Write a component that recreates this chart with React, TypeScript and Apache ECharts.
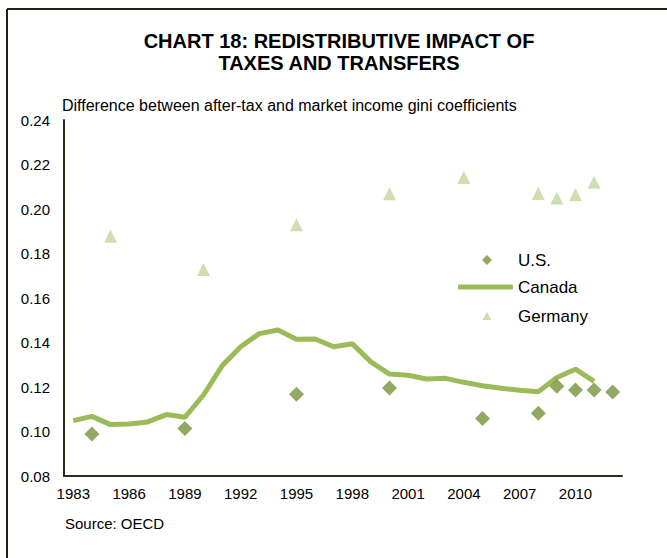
import React, { useEffect, useRef } from "react";
import * as echarts from "echarts";

const years: string[] = [
  "1983", "1984", "1985", "1986", "1987", "1988", "1989", "1990", "1991", "1992",
  "1993", "1994", "1995", "1996", "1997", "1998", "1999", "2000", "2001", "2002",
  "2003", "2004", "2005", "2006", "2007", "2008", "2009", "2010", "2011", "2012",
];

// Canada: 1983..2011
const canadaValues: number[] = [
  0.1049, 0.1068, 0.1031, 0.1034, 0.1043, 0.1076, 0.1064, 0.1164, 0.1295, 0.1381,
  0.144, 0.1456, 0.1415, 0.1416, 0.1381, 0.1394, 0.1313, 0.1258, 0.1253, 0.1236,
  0.1239, 0.1221, 0.1206, 0.1194, 0.1185, 0.1179, 0.1243, 0.128, 0.1225,
];

const usYears: string[] = ["1984", "1989", "1995", "2000", "2005", "2008", "2009", "2010", "2011", "2012"];
const usValues: number[] = [0.0989, 0.1013, 0.1167, 0.1195, 0.1058, 0.1082, 0.1203, 0.1187, 0.1186, 0.1177];

const deYears: string[] = ["1985", "1990", "1995", "2000", "2004", "2008", "2009", "2010", "2011"];
const deValues: number[] = [0.1878, 0.1728, 0.1929, 0.2068, 0.2142, 0.207, 0.205, 0.2064, 0.212];

const yTicks = { min: 0.08, max: 0.24, interval: 0.02 };

const FONT = "'Liberation Sans', Arial, sans-serif";

function toFull(ys: string[], vs: number[]): (number | null)[] {
  return years.map((y) => {
    const i = ys.indexOf(y);
    return i >= 0 ? vs[i] : null;
  });
}

const US_COLOR = "#77933c";
const CA_COLOR = "#9bbb59";
const DE_COLOR = "#c3d69b";

export default function App() {
  const ref = useRef<HTMLDivElement>(null);
  useEffect(() => {
    if (!ref.current) return;
    const chart = echarts.init(ref.current, undefined, { renderer: "svg" });
    const axisColor = "#2b2e1c";
    const legendText = { fontSize: 17, fontFamily: FONT, color: "#000" };
    chart.setOption({
      animation: false,
      backgroundColor: "#ffffff",
      textStyle: { fontFamily: FONT },
      graphic: [
        { type: "line", shape: { x1: 7, y1: 9, x2: 667, y2: 9 }, style: { stroke: "#1e2212", lineWidth: 2 } },
        { type: "line", shape: { x1: 7, y1: 9, x2: 7, y2: 558 }, style: { stroke: "#1e2212", lineWidth: 2 } },
        {
          type: "text",
          x: 339,
          y: 30,
          style: {
            text: "CHART 18: REDISTRIBUTIVE IMPACT OF\nTAXES AND TRANSFERS",
            x: 0,
            textAlign: "center",
            font: `bold 20px ${FONT}`,
            lineHeight: 22,
            fill: "#000",
          },
        },
        {
          type: "text",
          x: 62,
          y: 97,
          style: {
            text: "Difference between after-tax and market income gini coefficients",
            font: `16px ${FONT}`,
            fill: "#000",
          },
        },
        {
          type: "text",
          x: 65,
          y: 516,
          style: { text: "Source: OECD", font: `15px ${FONT}`, fill: "#000" },
        },
      ],
      legend: [
        {
          orient: "vertical",
          left: 482,
          top: 251.5,
          padding: 0,
          itemWidth: 10,
          itemHeight: 10,
          icon: "diamond",
          textStyle: { ...legendText, padding: [0, 0, 0, 21] },
          data: ["U.S."],
        },
        {
          orient: "vertical",
          left: 458,
          top: 278.5,
          padding: 0,
          itemWidth: 55,
          itemHeight: 5,
          icon: "roundRect",
          textStyle: legendText,
          data: ["Canada"],
        },
        {
          orient: "vertical",
          left: 482.5,
          top: 307.5,
          padding: 0,
          itemWidth: 9,
          itemHeight: 8,
          icon: "triangle",
          textStyle: { ...legendText, padding: [0, 0, 0, 21.5] },
          data: ["Germany"],
        },
      ],
      grid: { left: 64, right: 45, top: 120, bottom: 82 },
      xAxis: {
        type: "category",
        data: years,
        boundaryGap: true,
        axisLine: { lineStyle: { color: axisColor, width: 2 } },
        axisTick: { show: false },
        axisLabel: { interval: 2, fontSize: 15, color: "#000", margin: 10, fontFamily: FONT },
      },
      yAxis: {
        type: "value",
        min: yTicks.min,
        max: yTicks.max,
        interval: yTicks.interval,
        axisLine: { show: true, lineStyle: { color: axisColor, width: 2 } },
        axisTick: { show: false },
        splitLine: { show: false },
        axisLabel: {
          fontSize: 15,
          color: "#000",
          margin: 14,
          fontFamily: FONT,
          formatter: (v: number) => v.toFixed(2),
        },
      },
      series: [
        {
          name: "U.S.",
          type: "scatter",
          symbol: "diamond",
          symbolSize: 15,
          itemStyle: { color: US_COLOR },
          z: 5,
          data: toFull(usYears, usValues),
        },
        {
          name: "Canada",
          type: "line",
          showSymbol: false,
          symbol: "none",
          lineStyle: { color: CA_COLOR, width: 5 },
          itemStyle: { color: CA_COLOR },
          z: 3,
          data: canadaValues,
        },
        {
          name: "Germany",
          type: "scatter",
          symbol: "triangle",
          symbolSize: 13,
          itemStyle: { color: DE_COLOR },
          z: 4,
          data: toFull(deYears, deValues),
        },
      ],
    });
    return () => chart.dispose();
  }, []);
  return (
    <div
      ref={ref}
      style={{ position: "fixed", left: 0, top: 0, width: 667, height: 558, background: "#fff" }}
    />
  );
}
